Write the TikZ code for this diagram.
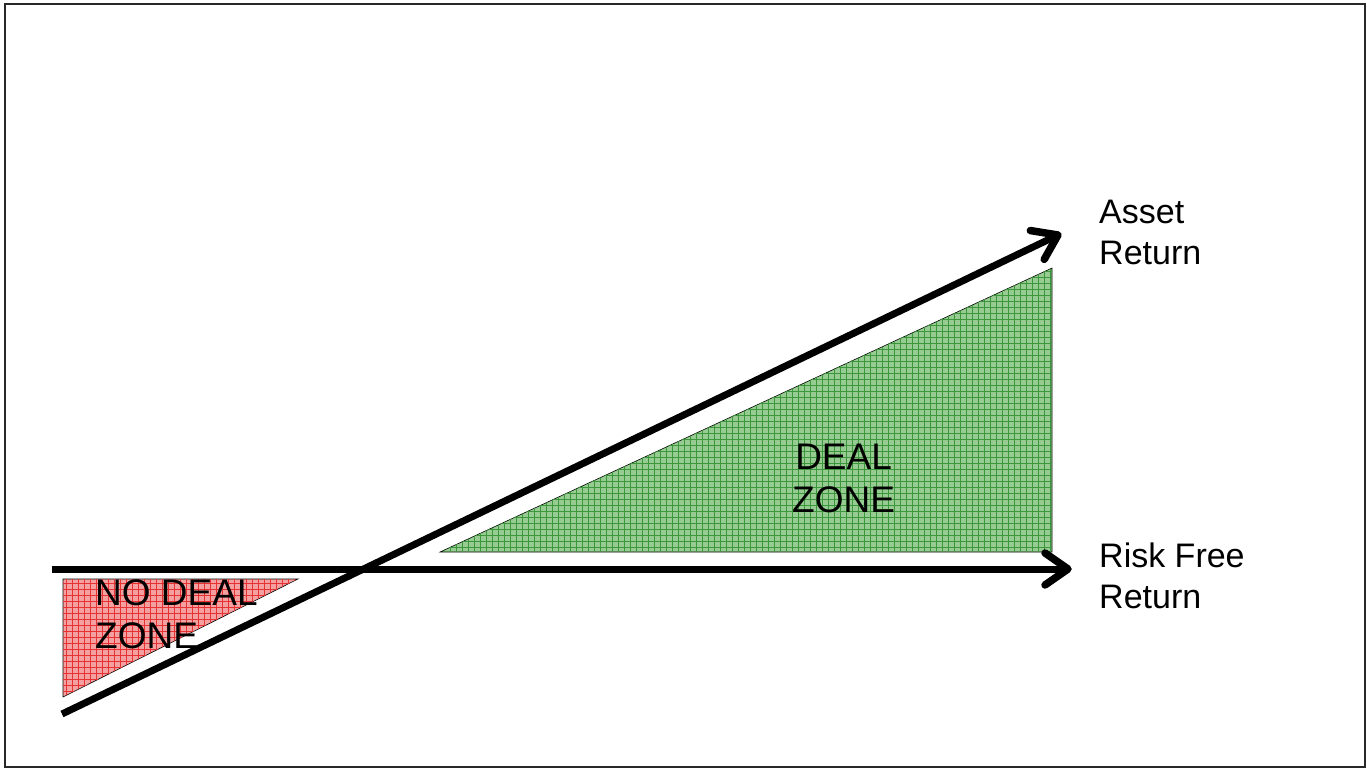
\documentclass[tikz,border=0pt]{standalone}
\usepackage{fontspec}
\setmainfont{Liberation Sans}
\usetikzlibrary{calc,patterns.meta}
\definecolor{framegray}{RGB}{40,40,40}
\definecolor{greenbg}{RGB}{150,204,145}
\definecolor{greenln}{RGB}{60,150,60}
\definecolor{redbg}{RGB}{245,160,160}
\definecolor{redln}{RGB}{230,50,50}
\tikzset{
  axis/.style={line width=7pt},
  axhead/.style={line width=7.5pt,line cap=round,line join=round},
  lbl/.style={inner sep=0pt,align=left,font=\fontsize{34}{41}\selectfont},
  zonelbl/.style={inner sep=0pt,align=left,font=\fontsize{37}{43}\selectfont},
  greenzone/.style={draw=black,line width=0.6pt,fill=greenbg,postaction={pattern={Hatch[distance=6pt,angle=0,line width=0.7pt]},pattern color=greenln}},
  redzone/.style={draw=black,line width=0.6pt,fill=redbg,postaction={pattern={Hatch[distance=6pt,angle=0,line width=0.7pt]},pattern color=redln}}
}
\begin{document}
\begin{tikzpicture}[x=1pt,y=-1pt]
\useasboundingbox (0,0) rectangle (1367,769);
\draw[framegray,line width=2pt] (5,4) rectangle (1365,767);
% zones
\draw[greenzone] (440,552) -- (1052,268) -- (1052,552) -- cycle;
\draw[redzone] (63,579) -- (298,579) -- (63,697) -- cycle;
% axes
\coordinate (h0) at (52,569);
\coordinate (h1) at (1068,569);
\coordinate (d0) at (62,714);
\coordinate (d1) at (1058,235);
\draw[axis] (h0) -- (h1);
\draw[axis] (d0) -- (d1);
\draw[axhead] ($(h1)!23pt!(h0)!16pt!90:(h0)$) -- (h1) -- ($(h1)!23pt!(h0)!16pt!-90:(h0)$);
\draw[axhead] ($(d1)!23pt!(d0)!16pt!90:(d0)$) -- (d1) -- ($(d1)!23pt!(d0)!16pt!-90:(d0)$);
% labels
\node[lbl,anchor=north west] (asset) at (1099,200) {Asset\\Return};
\node[lbl,anchor=north west] (rf) at (1099,543) {Risk Free\\Return};
\node[zonelbl,anchor=north west,align=center] (deal) at (792,444) {DEAL\\ZONE};
\node[zonelbl,anchor=north west] (nodeal) at (95,579) {NO DEAL\\ZONE};
\end{tikzpicture}
\end{document}
